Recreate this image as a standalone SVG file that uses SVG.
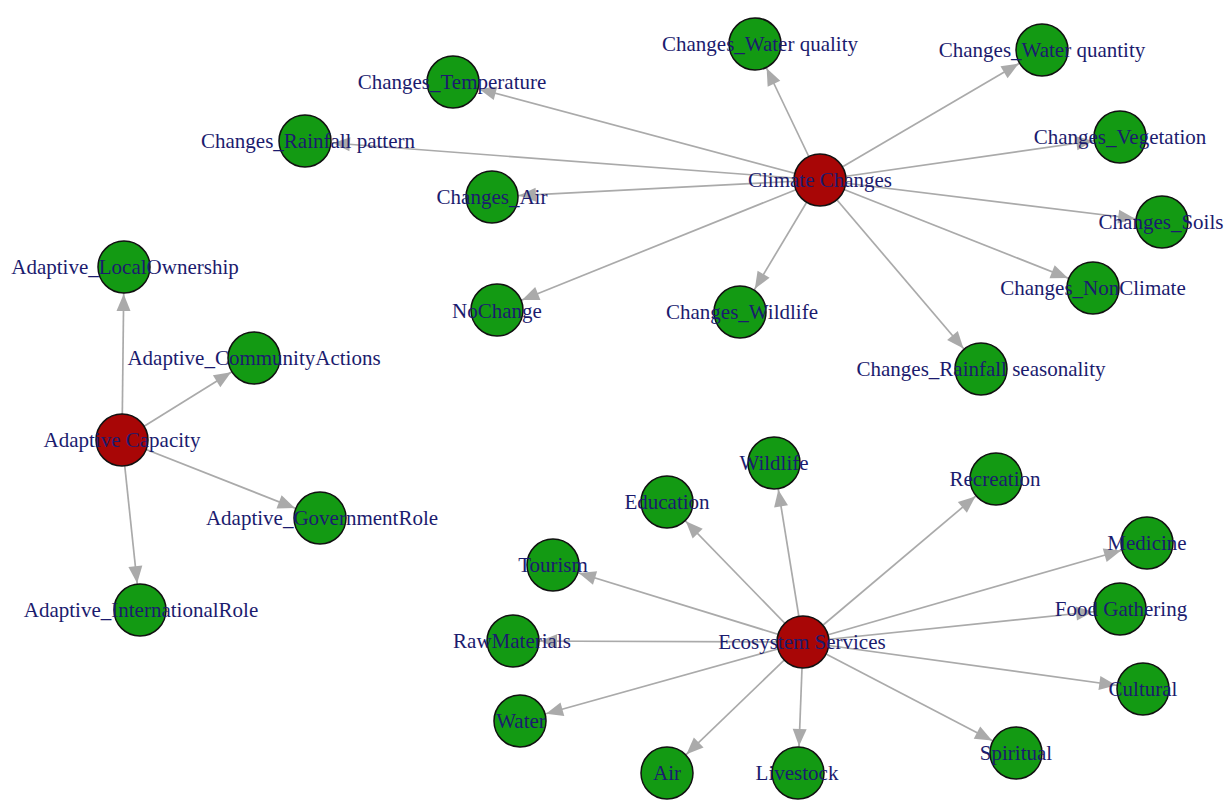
<svg xmlns="http://www.w3.org/2000/svg" width="1225" height="800" viewBox="0 0 1225 800">
<style>
.e{stroke:#aaaaaa;stroke-width:1.7;fill:none;marker-end:url(#ah)}
.g{fill:#139a13;stroke:#111;stroke-width:1.5}
.r{fill:#a80606;stroke:#111;stroke-width:1.5}
text{font-family:"Liberation Serif","Times New Roman",serif;font-size:21px;fill:#1b1b6e;text-anchor:middle}
</style>
<defs>
<marker id="ah" markerUnits="userSpaceOnUse" markerWidth="50" markerHeight="14" refX="44" refY="7" orient="auto" overflow="visible">
<path d="M0,0 L17,7 L0,14 z" fill="#aaaaaa"/>
</marker>
</defs>
<rect width="1225" height="800" fill="#fff"/>
<g id="connectors">
<line class="e" x1="820" y1="180" x2="755" y2="44"/>
<line class="e" x1="820" y1="180" x2="1042" y2="50"/>
<line class="e" x1="820" y1="180" x2="453" y2="82"/>
<line class="e" x1="820" y1="180" x2="306" y2="141"/>
<line class="e" x1="820" y1="180" x2="492" y2="197"/>
<line class="e" x1="820" y1="180" x2="497" y2="310"/>
<line class="e" x1="820" y1="180" x2="741" y2="312"/>
<line class="e" x1="820" y1="180" x2="981" y2="369"/>
<line class="e" x1="820" y1="180" x2="1093" y2="288"/>
<line class="e" x1="820" y1="180" x2="1162" y2="222"/>
<line class="e" x1="820" y1="180" x2="1120" y2="137"/>
<line class="e" x1="122" y1="440" x2="124" y2="267"/>
<line class="e" x1="122" y1="440" x2="254" y2="358"/>
<line class="e" x1="122" y1="440" x2="320" y2="518"/>
<line class="e" x1="122" y1="440" x2="140" y2="610"/>
<line class="e" x1="803" y1="642" x2="774" y2="463"/>
<line class="e" x1="803" y1="642" x2="667" y2="502"/>
<line class="e" x1="803" y1="642" x2="553" y2="565"/>
<line class="e" x1="803" y1="642" x2="513" y2="641"/>
<line class="e" x1="803" y1="642" x2="520" y2="721"/>
<line class="e" x1="803" y1="642" x2="667" y2="773"/>
<line class="e" x1="803" y1="642" x2="798" y2="773"/>
<line class="e" x1="803" y1="642" x2="1016" y2="753"/>
<line class="e" x1="803" y1="642" x2="1143" y2="689"/>
<line class="e" x1="803" y1="642" x2="1120" y2="609"/>
<line class="e" x1="803" y1="642" x2="1147" y2="543"/>
<line class="e" x1="803" y1="642" x2="996" y2="479"/>
</g>
<g id="n-climate"><circle class="r" cx="820" cy="180" r="26"/><text x="820" y="187">Climate Changes</text></g>
<g id="n-waterquality"><circle class="g" cx="755" cy="44" r="26"/><text x="760" y="51">Changes_Water quality</text></g>
<g id="n-waterquantity"><circle class="g" cx="1042" cy="50" r="26"/><text x="1042" y="57">Changes_Water quantity</text></g>
<g id="n-temperature"><circle class="g" cx="453" cy="82" r="26"/><text x="452" y="89">Changes_Temperature</text></g>
<g id="n-rainfallpattern"><circle class="g" cx="305" cy="141" r="26"/><text x="308" y="148">Changes_Rainfall pattern</text></g>
<g id="n-air-c"><circle class="g" cx="492" cy="197" r="26"/><text x="492" y="204">Changes_Air</text></g>
<g id="n-nochange"><circle class="g" cx="497" cy="310" r="26"/><text x="497" y="318">NoChange</text></g>
<g id="n-wildlife-c"><circle class="g" cx="740" cy="312" r="26"/><text x="742" y="319">Changes_Wildlife</text></g>
<g id="n-rainfallseason"><circle class="g" cx="981" cy="369" r="26"/><text x="981" y="376">Changes_Rainfall seasonality</text></g>
<g id="n-nonclimate"><circle class="g" cx="1093" cy="288" r="26"/><text x="1093" y="295">Changes_NonClimate</text></g>
<g id="n-soils"><circle class="g" cx="1162" cy="222" r="26"/><text x="1161" y="229">Changes_Soils</text></g>
<g id="n-vegetation"><circle class="g" cx="1120" cy="137" r="26"/><text x="1120" y="144">Changes_Vegetation</text></g>
<g id="n-adaptive"><circle class="r" cx="122" cy="440" r="26"/><text x="122" y="447">Adaptive Capacity</text></g>
<g id="n-localownership"><circle class="g" cx="124" cy="267" r="26"/><text x="125" y="274">Adaptive_LocalOwnership</text></g>
<g id="n-community"><circle class="g" cx="254" cy="358" r="26"/><text x="254" y="365">Adaptive_CommunityActions</text></g>
<g id="n-government"><circle class="g" cx="320" cy="518" r="26"/><text x="322" y="525">Adaptive_GovernmentRole</text></g>
<g id="n-international"><circle class="g" cx="140" cy="610" r="26"/><text x="141" y="617">Adaptive_InternationalRole</text></g>
<g id="n-ecosystem"><circle class="r" cx="803" cy="642" r="26"/><text x="802" y="649">Ecosystem Services</text></g>
<g id="n-wildlife"><circle class="g" cx="774" cy="463" r="26"/><text x="774" y="470">Wildlife</text></g>
<g id="n-education"><circle class="g" cx="667" cy="502" r="26"/><text x="667" y="509">Education</text></g>
<g id="n-tourism"><circle class="g" cx="553" cy="565" r="26"/><text x="553" y="572">Tourism</text></g>
<g id="n-rawmaterials"><circle class="g" cx="513" cy="641" r="26"/><text x="512" y="648">RawMaterials</text></g>
<g id="n-water"><circle class="g" cx="520" cy="721" r="26"/><text x="521" y="728">Water</text></g>
<g id="n-air"><circle class="g" cx="667" cy="773" r="26"/><text x="667" y="780">Air</text></g>
<g id="n-livestock"><circle class="g" cx="798" cy="773" r="26"/><text x="797" y="780">Livestock</text></g>
<g id="n-spiritual"><circle class="g" cx="1016" cy="753" r="26"/><text x="1016" y="760">Spiritual</text></g>
<g id="n-cultural"><circle class="g" cx="1143" cy="689" r="26"/><text x="1143" y="696">Cultural</text></g>
<g id="n-food"><circle class="g" cx="1120" cy="609" r="26"/><text x="1121" y="616">Food Gathering</text></g>
<g id="n-medicine"><circle class="g" cx="1147" cy="543" r="26"/><text x="1147" y="550">Medicine</text></g>
<g id="n-recreation"><circle class="g" cx="996" cy="479" r="26"/><text x="995" y="486">Recreation</text></g>
</svg>
